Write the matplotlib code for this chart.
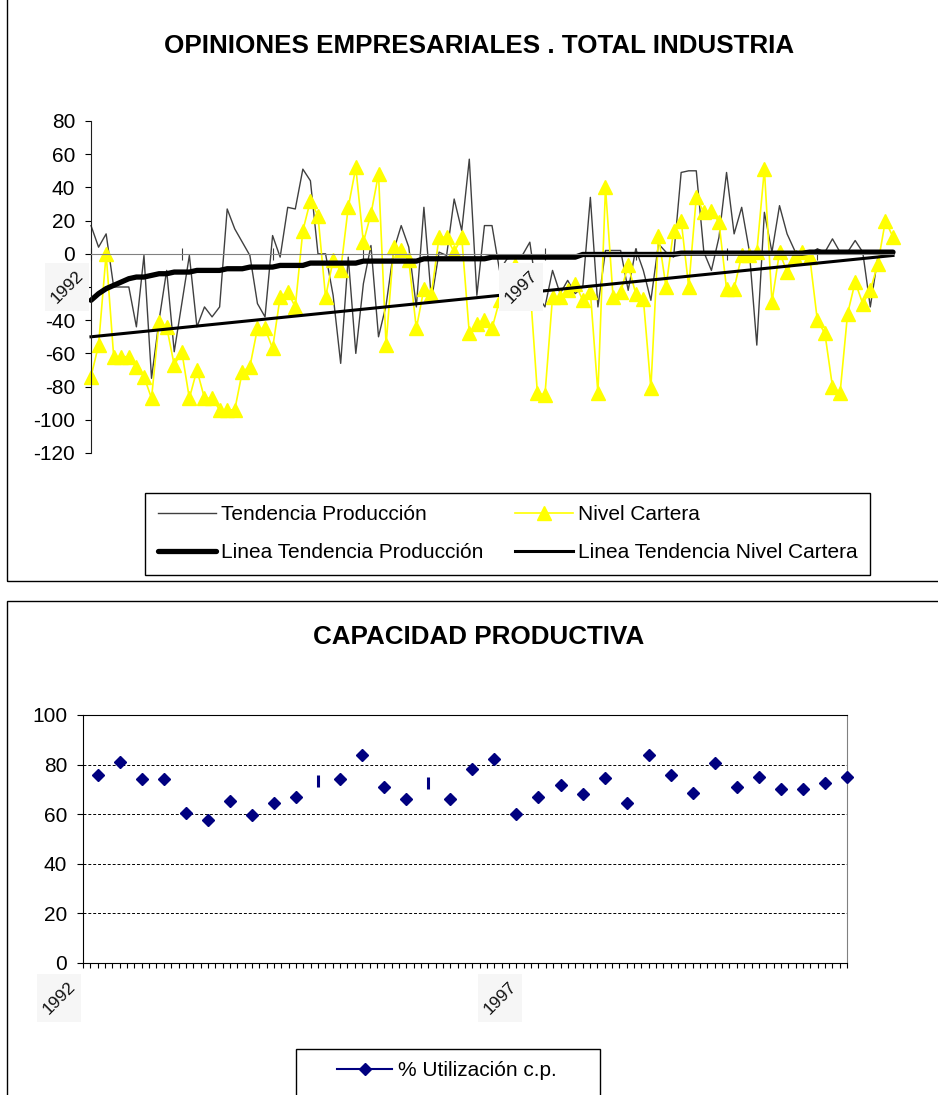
import matplotlib
matplotlib.use("Agg")
import matplotlib.pyplot as plt
import numpy as np
from matplotlib.lines import Line2D
from matplotlib.patches import Rectangle

plt.rcParams["font.family"] = ["Liberation Sans", "DejaVu Sans"]
plt.rcParams["axes.unicode_minus"] = False

# monthly series, Jan 1992 onwards
tend_produccion = [
    17, 4, 12, -20, -20, -20, -44, -1, -75, -40,
    -10, -59, -30, -1, -44, -32, -38, -32, 27, 15,
    7, -1, -30, -38, 11, -2, 28, 27, 51, 44,
    0, 0, -25, -66, -2, -60, -18, 5, -50, -31,
    2, 17, 4, -32, 28, -28, 1, -1, 33, 14,
    57, -25, 17, 17, -10, -3, -2, -1, 7, -25,
    -32, -10, -24, -16, -24, -20, 34, -32, 2, 2,
    2, -22, 3, -10, -28, 6, 1, -2, 49, 50,
    50, 1, -10, 10, 49, 12, 28, 2, -55, 25,
    1, 29, 12, 2, 0, 0, 3, 1, 9, 1,
    1, 8, 1, -32, -2, 0, 0,
]
nivel_cartera = [
    -74, -55, 0, -62, -62, -62, -68, -74, -87, -41,
    -44, -67, -59, -87, -70, -87, -87, -94, -94, -94,
    -71, -68, -45, -45, -57, -26, -23, -32, 14, 32,
    23, -26, -4, -10, 28, 52, 7, 24, 48, -55,
    4, 2, -4, -45, -21, -24, 10, 10, 1, 10,
    -48, -42, -40, -45, -28, -18, -7, -10, -18, -84,
    -85, -26, -26, -22, -18, -28, -23, -84, 40, -26,
    -23, -7, -24, -27, -81, 11, -20, 14, 20, -20,
    34, 25, 26, 19, -21, -21, -1, -1, 1, 51,
    -29, 1, -11, -2, 1, -2, -40, -48, -80, -84,
    -36, -17, -30, -22, -6, 20, 10,
]
linea_tend_produccion = [
    -28, -24, -21, -19, -17, -15, -14, -14, -13, -12,
    -12, -11, -11, -11, -10, -10, -10, -10, -9, -9,
    -9, -8, -8, -8, -8, -7, -7, -7, -7, -5.6,
    -5.6, -5.6, -5.6, -5.6, -5.6, -5.6, -4.4, -4.4, -4.4, -4.4,
    -4.4, -4.4, -4.4, -4.4, -3, -3, -3, -3, -3, -3,
    -3, -3, -3, -2, -2, -2, -2, -2, -2, -2,
    -2, -2, -2, -2, -2, -0.4, -0.4, -0.4, -0.4, -0.4,
    -0.4, -0.4, -0.4, -0.4, -0.4, -0.4, -0.4, -0.4, 0.4, 0.4,
    0.4, 0.4, 0.4, 0.4, 0.4, 0.4, 0.4, 0.4, 0.4, 0.4,
    0.4, 0.4, 0.4, 0.4, 0.4, 1, 1, 1, 1, 1,
    1, 1, 1, 1, 1, 1, 1,
]
linea_tend_cartera_mes = [0, 106]
linea_tend_cartera = [-50, -1]

# quarterly capacity utilisation (end-of-quarter months)
utilizacion = [
    76, 81, 74.3, 74.3, 60.5, 57.6, 65.5, 59.7, 64.7, 67.1,
    73.3, 74.3, 83.9, 71.1, 66.3, 72.7, 66.3, 78.3, 82.4, 59.9,
    67.1, 71.9, 68, 74.4, 64.7, 84, 75.9, 68.7, 80.8, 71.1,
    75.1, 70.3, 70.3, 72.7, 75.1,
]
marca_barra = [10, 15]

etiquetas_anio = {0: "1992", 60: "1997"}

W, H = 938, 1095
fig = plt.figure(figsize=(W / 100, H / 100), dpi=100)


def px_box(l, t, r, b):
    return [l / W, 1 - b / H, (r - l) / W, (b - t) / H]


def year_label(ax, mes, y0, texto, dy):
    # grey box + rotated year under the category axis
    X, Y = ax.transData.transform((mes, y0))
    fig.add_artist(Rectangle(((X - 46) / W, (Y - dy - 48) / H), 44 / W, 48 / H,
                             transform=fig.transFigure, fc="#f6f6f6", ec="none", zorder=1))
    fig.text((X - 24) / W, (Y - dy - 24) / H, texto, rotation=45, ha="center",
             va="center", rotation_mode="anchor", fontsize=12.5, color="#111111", zorder=1.1)


# chart area borders
fig.add_artist(Rectangle((7 / W, 1 - 581 / H), 1.0, 590 / H,
                         transform=fig.transFigure, fill=False, ec="black", lw=1))
fig.add_artist(Rectangle((7 / W, -0.05), 1.0, (1095 - 601) / H + 0.05,
                         transform=fig.transFigure, fill=False, ec="black", lw=1))

# --- top chart ---
fig.text(479 / W, 1 - 46 / H, "OPINIONES EMPRESARIALES . TOTAL INDUSTRIA",
         ha="center", va="center", fontsize=18.7, fontweight="bold")

ax1 = fig.add_axes(px_box(91, 121, 893, 453))
meses = np.arange(len(tend_produccion))
h1, = ax1.plot(meses, tend_produccion, color="#404040", lw=1.0, zorder=2.0, clip_on=False)
h2, = ax1.plot(meses, nivel_cartera, color="#ffff00", lw=1.2, marker="^", ms=10,
               mec="#ffff00", zorder=2.1, clip_on=False)
h3, = ax1.plot(meses, linea_tend_produccion, color="black", lw=3.8, zorder=2.2,
               solid_capstyle="round", clip_on=False)
h4, = ax1.plot(linea_tend_cartera_mes, linea_tend_cartera, color="black", lw=2.2,
               zorder=2.3, clip_on=False)

ax1.set_xlim(0, 106)
ax1.set_ylim(-120, 80)
ax1.set_yticks(range(-120, 81, 20))
ax1.spines["top"].set_visible(False)
ax1.spines["right"].set_visible(False)
ax1.spines["bottom"].set_position(("data", 0))
ax1.spines["bottom"].set_color("#808080")
ax1.spines["left"].set_color("#202020")
ax1.set_xticks(range(0, 107, 12))
ax1.set_xticklabels([])
ax1.tick_params(axis="x", direction="inout", length=9, color="#404040")
ax1.tick_params(axis="y", direction="out", length=4.5, pad=7, labelsize=15)
for mes, texto in etiquetas_anio.items():
    year_label(ax1, mes, 0, texto, 9)

leg1 = fig.legend(handles=[h1, h3, h2, h4],
                  labels=["Tendencia Producción", "Linea Tendencia Producción",
                          "Nivel Cartera", "Linea Tendencia Nivel Cartera"],
                  ncol=2, loc="upper left", bbox_to_anchor=(145 / W, 1 - 493 / H),
                  bbox_transform=fig.transFigure, fontsize=15, handlelength=2.8,
                  handletextpad=0.25, columnspacing=1.5, labelspacing=0.9,
                  borderpad=0.6, borderaxespad=0, fancybox=False, framealpha=1,
                  edgecolor="black")
leg1.get_frame().set_linewidth(1.0)

# --- bottom chart ---
fig.text(479 / W, 1 - 637 / H, "CAPACIDAD PRODUCTIVA",
         ha="center", va="center", fontsize=18.7, fontweight="bold")

ax2 = fig.add_axes(px_box(83, 715, 847, 963))
util = np.array(utilizacion)
meses_q = np.arange(2, 105, 3)
es_barra = np.isin(np.arange(len(util)), marca_barra)
ax2.plot(meses_q[~es_barra], util[~es_barra], ls="none", marker="D", ms=6.5,
         color="#000080", zorder=3, clip_on=False)
ax2.plot(meses_q[es_barra], util[es_barra], ls="none", marker="|", ms=8, mew=2.2,
         color="#000080", zorder=3)

ax2.set_xlim(0, 104)
ax2.set_ylim(0, 100)
ax2.set_yticks(range(0, 101, 20))
ax2.grid(axis="y", color="black", ls=(0, (3, 2)), lw=0.7)
ax2.spines["right"].set_color("#808080")
ax2.set_xticks(range(0, 105))
ax2.set_xticklabels([])
ax2.tick_params(axis="x", direction="out", length=3.5)
ax2.tick_params(axis="y", direction="out", length=4.5, pad=7, labelsize=15)
for mes, texto in etiquetas_anio.items():
    year_label(ax2, mes, 0, texto, 11)

fig.add_artist(Rectangle((296 / W, 1 - 1096 / H), 304 / W, 47 / H,
                         transform=fig.transFigure, fill=False, ec="black", lw=1))
h5 = Line2D([], [], color="#000080", lw=1.5, marker="D", ms=6.5)
fig.legend(handles=[h5], labels=["% Utilización c.p."], loc="center left",
           bbox_to_anchor=(337 / W, 1 - 1071 / H), bbox_transform=fig.transFigure,
           fontsize=15, handlelength=2.65, handletextpad=0.3, borderpad=0,
           borderaxespad=0, frameon=False)

fig.savefig("out.png", dpi=100)
